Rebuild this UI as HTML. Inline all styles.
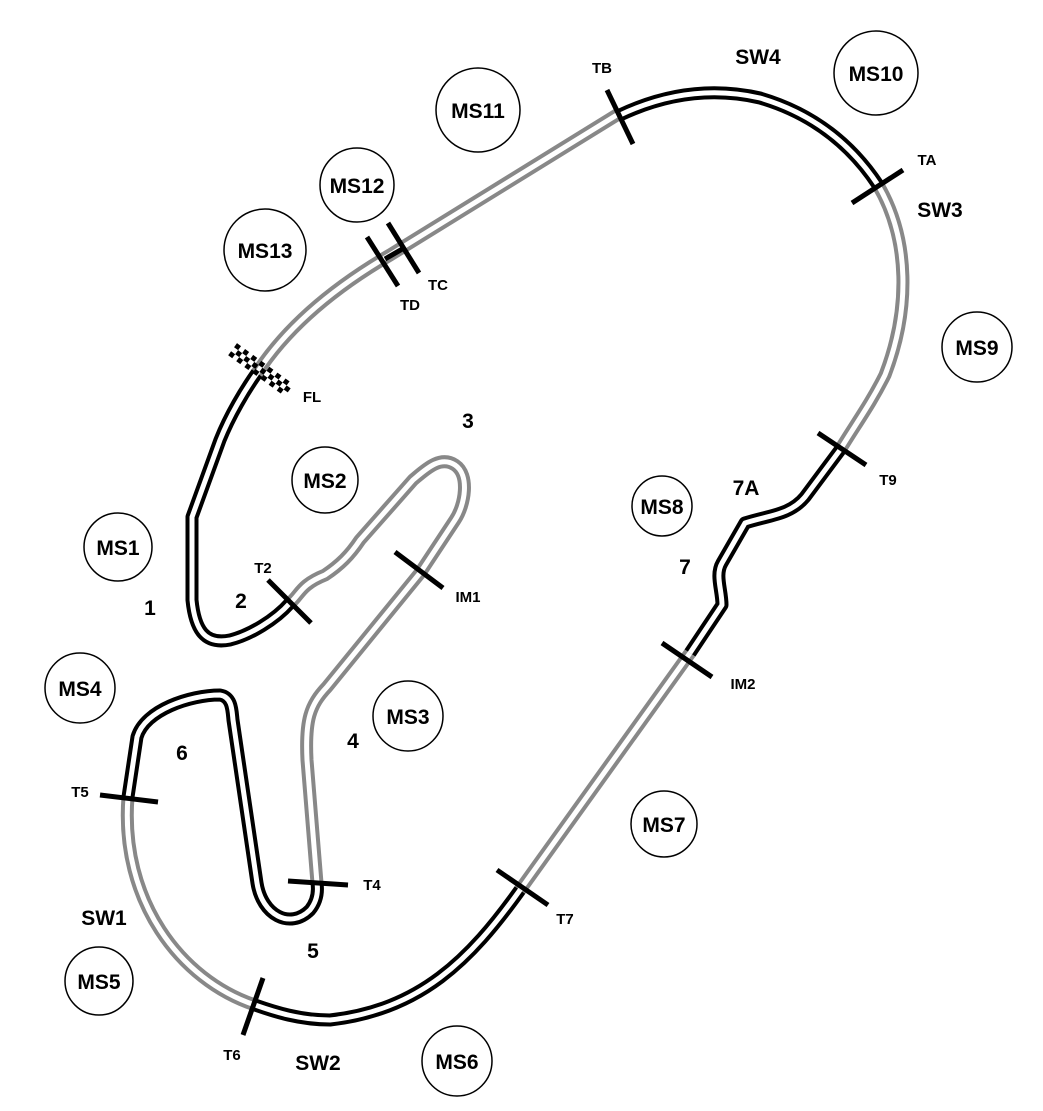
<!DOCTYPE html>
<html><head><meta charset="utf-8"><style>
html,body{margin:0;padding:0;background:#fff}
svg{display:block}
text{font-family:"Liberation Sans",Arial,sans-serif;font-weight:bold;fill:#000}
</style></head><body>
<svg width="1043" height="1111" viewBox="0 0 1043 1111" xmlns="http://www.w3.org/2000/svg">
<g fill="none" stroke-linejoin="round" stroke-linecap="butt">
<g stroke="#888" stroke-width="13">
<path id="g1" d="M257,373 C285,330 330,290 390,255 L620,113"/>
<path id="g2" d="M878,185 C910,240 910,310 885,375 C870,405 855,425 840,450"/>
<path id="g3" d="M690,653 L520,890"/>
<path id="g4" d="M255,1005 C180,980 120,900 128,797"/>
<path id="g5" d="M317,883 L307,760 C305,720 310,705 327,687 L420,573 L455,520 C465,505 470,475 455,465 C440,455 425,470 413,480 L360,540 C350,555 340,565 325,575 C300,585 300,595 290,603"/>
</g>
<g stroke="#000" stroke-width="13">
<path id="b1" d="M620,115 Q690,82 760,98 Q835,120 878,185"/>
<path id="b2" d="M840,450 L805,497 C790,515 770,515 745,523 L722,563 C715,575 722,590 722,605 L690,653"/>
<path id="b3" d="M520,890 C470,960 420,1010 330,1020 C300,1020 275,1012 255,1005"/>
<path id="b4" d="M128,797 L137,737 C145,710 190,695 220,695 C232,697 232,710 233,720 L257,883 C262,915 290,930 310,910 C318,900 318,890 317,883"/>
<path id="b5" d="M290,603 C275,620 250,635 230,640 C205,645 195,630 192,600 L192,517 L220,440 C230,415 245,390 257,373"/>
</g>
<g stroke="#fff" stroke-width="5">
<use href="#g1"/><use href="#g2"/><use href="#g3"/><use href="#g4"/><use href="#g5"/>
<use href="#b1"/><use href="#b2"/><use href="#b3"/><use href="#b4"/><use href="#b5"/>
</g>
<g stroke="#000" stroke-width="5">
<line x1="607" y1="90" x2="633" y2="144"/>
<line x1="852" y1="203" x2="903" y2="170"/>
<line x1="818" y1="433" x2="866" y2="465"/>
<line x1="662" y1="643" x2="712" y2="677"/>
<line x1="395" y1="552" x2="443" y2="588"/>
<line x1="268" y1="580" x2="311" y2="623"/>
<line x1="288" y1="881" x2="348" y2="885"/>
<line x1="100" y1="795" x2="158" y2="802"/>
<line x1="497" y1="870" x2="548" y2="905"/>
<line x1="263" y1="978" x2="243" y2="1035"/>
<line x1="367" y1="237" x2="398" y2="286"/>
<line x1="388" y1="223" x2="419" y2="273"/>
<line x1="385" y1="259" x2="404" y2="248"/>
</g>
</g>
<g fill="#000" transform="translate(262,370) rotate(36)">
<g transform="translate(-36,-7)">
<rect x="0" y="0" width="5" height="5"/><rect x="10" y="0" width="5" height="5"/><rect x="20" y="0" width="5" height="5"/><rect x="30" y="0" width="5" height="5"/><rect x="40" y="0" width="5" height="5"/><rect x="50" y="0" width="5" height="5"/><rect x="60" y="0" width="5" height="5"/>
<rect x="5" y="5" width="5" height="5"/><rect x="15" y="5" width="5" height="5"/><rect x="25" y="5" width="5" height="5"/><rect x="35" y="5" width="5" height="5"/><rect x="45" y="5" width="5" height="5"/><rect x="55" y="5" width="5" height="5"/><rect x="65" y="5" width="5" height="5"/>
<rect x="0" y="10" width="5" height="5"/><rect x="10" y="10" width="5" height="5"/><rect x="20" y="10" width="5" height="5"/><rect x="30" y="10" width="5" height="5"/><rect x="40" y="10" width="5" height="5"/><rect x="50" y="10" width="5" height="5"/><rect x="60" y="10" width="5" height="5"/>
</g>
</g>
<g fill="none" stroke="#000" stroke-width="1.5">
<circle cx="478" cy="110" r="42"/>
<circle cx="876" cy="73" r="42"/>
<circle cx="357" cy="185" r="37"/>
<circle cx="265" cy="250" r="41"/>
<circle cx="977" cy="347" r="35"/>
<circle cx="325" cy="480" r="33"/>
<circle cx="662" cy="506" r="30"/>
<circle cx="118" cy="547" r="34"/>
<circle cx="80" cy="688" r="35"/>
<circle cx="408" cy="716" r="35"/>
<circle cx="664" cy="824" r="33"/>
<circle cx="99" cy="981" r="34"/>
<circle cx="457" cy="1061" r="35"/>
</g>
<g font-size="21" text-anchor="middle">
<text x="478" y="118">MS11</text>
<text x="876" y="81">MS10</text>
<text x="357" y="193">MS12</text>
<text x="265" y="258">MS13</text>
<text x="977" y="355">MS9</text>
<text x="325" y="488">MS2</text>
<text x="662" y="514">MS8</text>
<text x="118" y="555">MS1</text>
<text x="80" y="696">MS4</text>
<text x="408" y="724">MS3</text>
<text x="664" y="832">MS7</text>
<text x="99" y="989">MS5</text>
<text x="457" y="1069">MS6</text>
<text x="758" y="64">SW4</text>
<text x="940" y="217">SW3</text>
<text x="104" y="925">SW1</text>
<text x="318" y="1070">SW2</text>
<text x="468" y="428">3</text>
<text x="746" y="495">7A</text>
<text x="685" y="574">7</text>
<text x="241" y="608">2</text>
<text x="150" y="615">1</text>
<text x="353" y="748">4</text>
<text x="182" y="760">6</text>
<text x="313" y="958">5</text>
</g>
<g font-size="15" text-anchor="middle">
<text x="602" y="73">TB</text>
<text x="927" y="165">TA</text>
<text x="438" y="290">TC</text>
<text x="410" y="310">TD</text>
<text x="312" y="402">FL</text>
<text x="888" y="485">T9</text>
<text x="468" y="602">IM1</text>
<text x="263" y="573">T2</text>
<text x="743" y="689">IM2</text>
<text x="80" y="797">T5</text>
<text x="372" y="890">T4</text>
<text x="565" y="924">T7</text>
<text x="232" y="1060">T6</text>
</g>
</svg>
</body></html>
